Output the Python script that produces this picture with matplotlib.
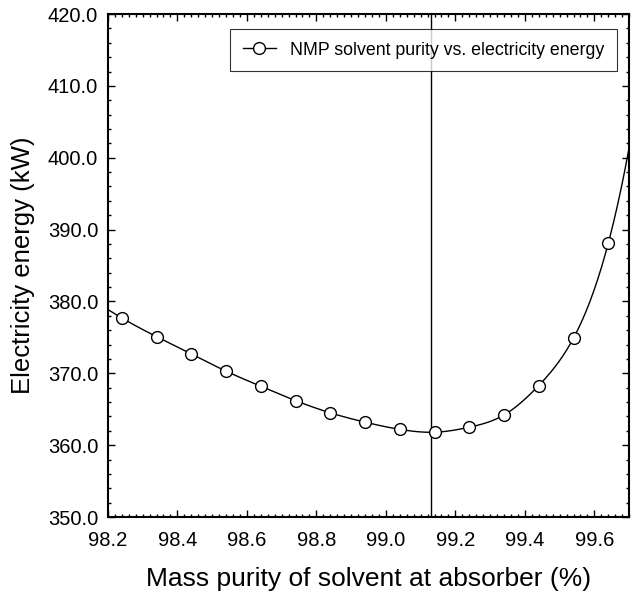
import numpy as np
import matplotlib
matplotlib.use("Agg")
import matplotlib.pyplot as plt
from matplotlib.ticker import MultipleLocator, FormatStrFormatter

purity = [98.24, 98.34, 98.44, 98.54, 98.64, 98.74, 98.84, 98.94,
          99.04, 99.14, 99.24, 99.34, 99.44, 99.54, 99.64]
energy = [377.7, 375.1, 372.7, 370.3, 368.2, 366.2, 364.5, 363.2,
          362.2, 361.8, 362.5, 364.2, 368.3, 374.9, 388.1]
optimum = 99.13
label = "NMP solvent purity vs. electricity energy"


def cubic_spline(x, y, xs):
    """Not-a-knot cubic spline, extrapolated with the end pieces."""
    x = np.asarray(x, float)
    y = np.asarray(y, float)
    n = len(x)
    h = np.diff(x)
    A = np.zeros((n, n))
    b = np.zeros(n)
    # not-a-knot ends
    A[0, 0], A[0, 1], A[0, 2] = h[1], -(h[0] + h[1]), h[0]
    A[-1, -3], A[-1, -2], A[-1, -1] = h[-1], -(h[-2] + h[-1]), h[-2]
    for i in range(1, n - 1):
        A[i, i - 1] = h[i - 1]
        A[i, i] = 2 * (h[i - 1] + h[i])
        A[i, i + 1] = h[i]
        b[i] = 3 * ((y[i + 1] - y[i]) / h[i] - (y[i] - y[i - 1]) / h[i - 1])
    c = np.linalg.solve(A, b)
    bb = (y[1:] - y[:-1]) / h - h * (2 * c[:-1] + c[1:]) / 3
    d = (c[1:] - c[:-1]) / (3 * h)
    idx = np.clip(np.searchsorted(x, xs) - 1, 0, n - 2)
    dx = xs - x[idx]
    return y[idx] + bb[idx] * dx + c[idx] * dx ** 2 + d[idx] * dx ** 3


plt.rcParams["font.family"] = ["Liberation Sans", "DejaVu Sans"]

fig = plt.figure(figsize=(6.31, 5.94), dpi=100)
ax = fig.add_axes([0.171, 0.1296, 0.826, 0.8468])

xs = np.linspace(98.2, 99.7, 400)
ax.plot(xs, cubic_spline(purity, energy, xs), color="black", lw=1.0, zorder=2)
ax.plot(purity, energy, "o", color="black", mfc="white", mec="black",
        ms=8.5, mew=1.0, zorder=3)
ax.axvline(optimum, color="black", lw=1.0, zorder=1)

# legend proxy: line with marker
ax.plot([], [], "-o", color="black", mfc="white", mec="black", ms=8.5,
        lw=1.0, label=label)
leg = ax.legend(loc="upper right", fontsize=12.75, frameon=True, fancybox=False,
                edgecolor="black", borderpad=0.7, handlelength=1.9,
                handletextpad=0.8, borderaxespad=0,
                bbox_to_anchor=(0.977, 0.970))
leg.get_frame().set_linewidth(0.8)

ax.set_xlim(98.2, 99.7)
ax.set_ylim(350, 420)
ax.xaxis.set_major_locator(MultipleLocator(0.2))
ax.xaxis.set_minor_locator(MultipleLocator(0.02))
ax.yaxis.set_major_locator(MultipleLocator(10))
ax.yaxis.set_minor_locator(MultipleLocator(2))
ax.xaxis.set_major_formatter(FormatStrFormatter("%.1f"))
ax.yaxis.set_major_formatter(FormatStrFormatter("%.1f"))
ax.tick_params(which="both", direction="in", top=True, right=True,
               labelsize=14.5, width=1.0)
ax.tick_params(which="major", length=5)
ax.tick_params(which="minor", length=2.5)
ax.tick_params(axis="x", which="major", pad=10)
ax.tick_params(axis="y", which="major", pad=7)
for s in ax.spines.values():
    s.set_linewidth(1.5)

ax.set_xlabel("Mass purity of solvent at absorber (%)", fontsize=19, labelpad=12)
ax.set_ylabel("Electricity energy (kW)", fontsize=18.5, labelpad=9)

fig.savefig("out.png", dpi=100)
